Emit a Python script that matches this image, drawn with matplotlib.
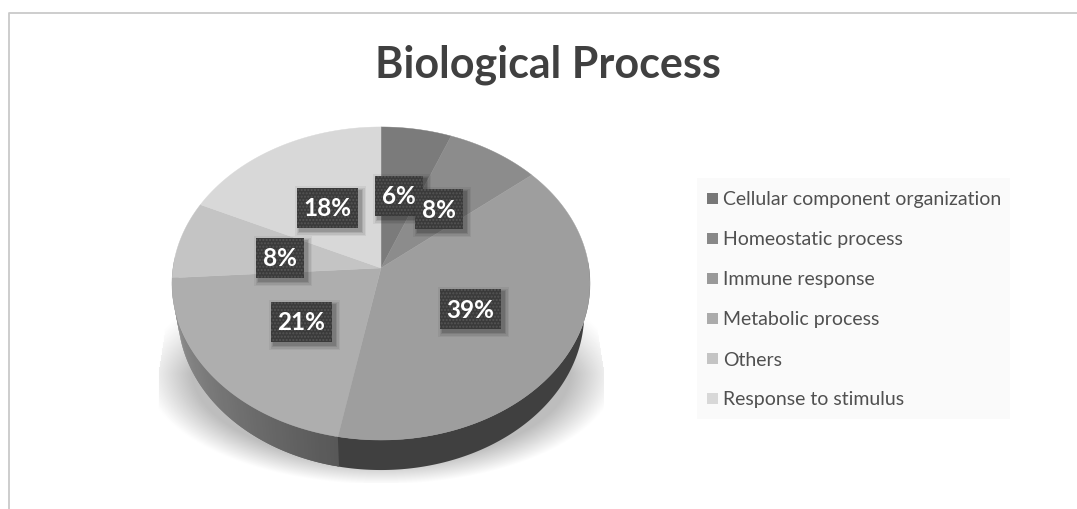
import numpy as np
import matplotlib
matplotlib.use('Agg')
import matplotlib.pyplot as plt
from matplotlib.patches import Rectangle

plt.rcParams['font.family'] = ['Lato', 'DejaVu Sans']

categories = ['Cellular component organization', 'Homeostatic process', 'Immune response',
              'Metabolic process', 'Others', 'Response to stimulus']
values = [6, 8, 39, 21, 8, 18]
labels = ['6%', '8%', '39%', '21%', '8%', '18%']
slice_colors = ['#7b7b7b', '#8c8c8c', '#9e9e9e', '#aeaeae', '#c4c4c4', '#d8d8d8']
legend_colors = ['#777777', '#888888', '#999999', '#ababab', '#c4c4c4', '#d8d8d8']

# label box: left, top, width, height in pixels, drawn in the order of this list
boxes = [(375, 176, 48, 40), (415, 189, 48, 40), (440, 289, 61, 40),
         (271, 302, 61, 40), (256, 238, 48, 40), (297, 188, 61, 40)]

# pie geometry in pixels, with a bit of perspective
cx, cy = 381, 268
rx, ry, persp = 208, 155, 0.099
depth = 30
narrow = 0.972


def project(angle):
    # angle in degrees, clockwise from the top of the pie
    a = np.radians(angle)
    u, v = np.sin(a), np.cos(a)
    w = 1 + persp * v
    return cx + rx * u / w, cy - ry * v / w


def wall(a0, a1, color):
    th = np.linspace(a0, a1, max(int(a1 - a0) * 2, 2))
    x, y = project(th)
    xb = cx + (x - cx) * narrow
    yb = y + depth
    ax.fill(np.r_[x, xb[::-1]], np.r_[y, yb[::-1]], color=color, lw=0, zorder=3)


fig = plt.figure(figsize=(10.77, 5.09), dpi=100)
ax = fig.add_axes([0, 0, 1, 1])
ax.set_xlim(0, 1077)
ax.set_ylim(509, 0)
ax.axis('off')

# frame of the chart area
ax.plot([8.5, 8.5, 1077], [509, 12.5, 12.5], color='#c9c9c9', lw=1.3, zorder=1)

# soft shadow under the pie
yy, xx = np.mgrid[240:483, 150:615]
d = np.sqrt(((xx - 381) / 236.0) ** 2 + ((yy - 372) / 112.0) ** 2)
shade = np.clip((1.0 - d) / 0.2, 0, 1)
edge = np.minimum(209 + (yy - 283) * 13.0 / 84, 222)
shade[np.abs(xx - 381) > edge] = 0
fade = np.clip((yy - 283) / 90.0, 0, 1)
shade = shade * (0.1 + 0.9 * fade) * (yy > 283)
ax.imshow(0.26 * shade, extent=[150, 615, 483, 240], origin='upper', cmap='gray_r',
          vmin=0, vmax=1, aspect='auto', zorder=2, interpolation='bilinear')

# side wall: flat dark on the right, gradient on the left of the 39% slice edge
split = sum(values[:3]) * 3.6
wall_end = 272
wall(88, split + 0.5, '#404040')
for a in np.arange(split, wall_end, 1.0):
    t = (a - split) / (wall_end - split)
    g = (0x58 + t * (0x9c - 0x58)) / 255
    wall(a, a + 2.0, (g, g, g))

# top of the pie
bounds = np.concatenate([[0], np.cumsum(values)]) * 3.6
for i in range(len(values)):
    th = np.linspace(bounds[i], bounds[i + 1], 120)
    px, py = project(th)
    ax.fill(np.r_[cx, px], np.r_[cy, py], color=slice_colors[i], lw=0.3,
            ec=slice_colors[i], zorder=4)

# data labels
for i in range(len(labels)):
    left, top, w, h = boxes[i]
    z = 5 + i * 0.1
    for grow, al in [(5, 0.05), (3.5, 0.07), (2, 0.09), (1, 0.12)]:
        ax.add_patch(Rectangle((left + 3 - grow, top + 3 - grow), w + 2 * grow, h + 2 * grow,
                               fc='black', ec='none', alpha=al, zorder=z))
    ax.add_patch(Rectangle((left, top), w, h, fc='#3a3a3a', ec='#555555', hatch='.....',
                           lw=0, zorder=z + 0.01))
    ax.text(left + w / 2, top + h / 2 + 1, labels[i], color='white', fontsize=17.5, fontweight='bold',
            ha='center', va='center', zorder=z + 0.02)

# title
ax.text(547.5, 65, 'Biological Process', color='#404040', fontsize=31, fontweight='bold',
        ha='center', va='center', zorder=6)

# legend
ax.add_patch(Rectangle((697, 178), 313, 241, fc='#fafafa', ec='none', zorder=2))
for i, name in enumerate(categories):
    y = 198 + i * 40
    ax.add_patch(Rectangle((707, y - 5.5), 11, 11, fc=legend_colors[i], ec='none', zorder=3))
    ax.text(723, y + 2, name, color='#505050', fontsize=14, ha='left', va='center', zorder=3)

fig.savefig('out.png', dpi=100)
